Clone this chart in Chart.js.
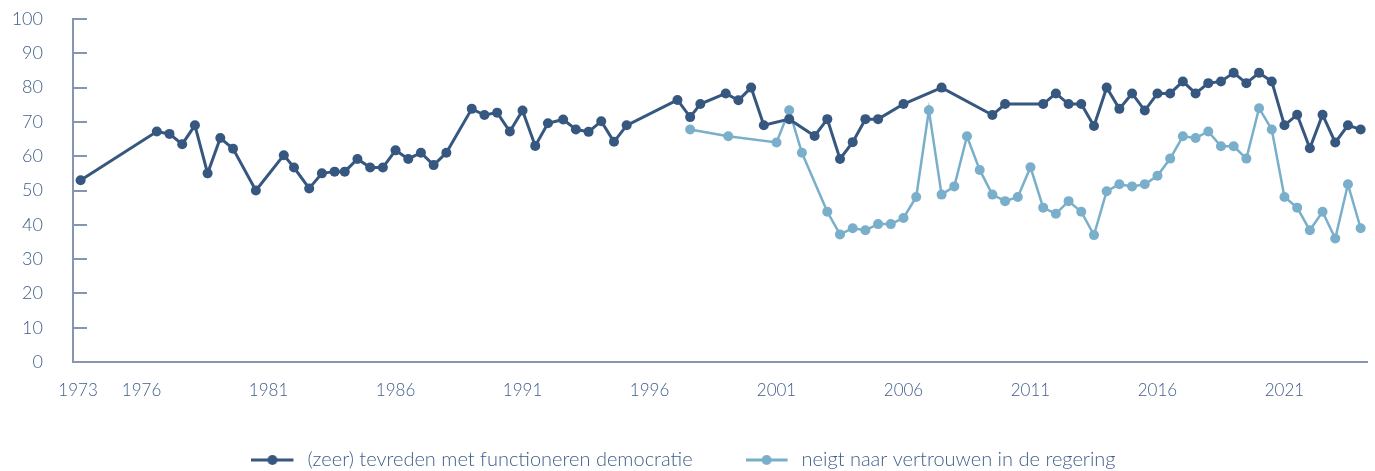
<!DOCTYPE html>
<html lang="nl">
<head>
  <meta charset="UTF-8" />
  <title>Tevredenheid democratie en vertrouwen in de regering</title>
  <script src="https://cdn.jsdelivr.net/npm/chart.js"></script>
  <style>
    html, body { margin: 0; padding: 0; background: #fff; overflow: hidden; }
    #wrap { width: 1375px; height: 471px; overflow: hidden; }
  </style>
</head>
<body>
<div id="wrap"><canvas id="chart" width="1375" height="480"></canvas></div>
<script>
  // jaren (decimaal, peilmoment) en percentages
  const demYears = [1973.6, 1976.6, 1977.1, 1977.6, 1978.1, 1978.6, 1979.1, 1979.6, 1980.5, 1981.6,
    1982.0, 1982.6, 1983.1, 1983.6, 1984.0, 1984.5, 1985.0, 1985.5, 1986.0, 1986.5,
    1987.0, 1987.5, 1988.0, 1989.0, 1989.5, 1990.0, 1990.5, 1991.0, 1991.5, 1992.0,
    1992.6, 1993.1, 1993.6, 1994.1, 1994.6, 1995.1, 1997.1, 1997.6, 1998.0, 1999.0,
    1999.5, 2000.0, 2000.5, 2001.5, 2002.5, 2003.0, 2003.5, 2004.0, 2004.5, 2005.0,
    2006.0, 2007.5, 2009.5, 2010.0, 2011.5, 2012.0, 2012.5, 2013.0, 2013.5, 2014.0,
    2014.5, 2015.0, 2015.5, 2016.0, 2016.5, 2017.0, 2017.5, 2018.0, 2018.5, 2019.0,
    2019.5, 2020.0, 2020.5, 2021.0, 2021.5, 2022.0, 2022.5, 2023.0, 2023.5, 2024.0];
  const demValues = [53, 67.2, 66.5, 63.5, 69, 55, 65.3, 62.2, 50, 60.3,
    56.7, 50.6, 55, 55.5, 55.5, 59.2, 56.7, 56.7, 61.7, 59.2,
    61, 57.4, 61, 73.8, 72, 72.7, 67.2, 73.3, 63, 69.6,
    70.7, 67.8, 67.1, 70.2, 64.2, 69, 76.4, 71.4, 75.2, 78.3,
    76.3, 80, 69, 70.8, 65.9, 70.8, 59.2, 64.1, 70.8, 70.8,
    75.2, 80, 72, 75.2, 75.2, 78.3, 75.2, 75.2, 68.8, 80,
    73.8, 78.3, 73.3, 78.3, 78.3, 81.8, 78.3, 81.3, 81.8, 84.3,
    81.3, 84.3, 81.8, 69, 72.1, 62.3, 72.1, 64, 69, 67.8];

  const trustYears = [1997.6, 1999.1, 2001.0, 2001.5, 2002.0, 2003.0, 2003.5, 2004.0, 2004.5, 2005.0,
    2005.5, 2006.0, 2006.5, 2007.0, 2007.5, 2008.0, 2008.5, 2009.0, 2009.5, 2010.0,
    2010.5, 2011.0, 2011.5, 2012.0, 2012.5, 2013.0, 2013.5, 2014.0, 2014.5, 2015.0,
    2015.5, 2016.0, 2016.5, 2017.0, 2017.5, 2018.0, 2018.5, 2019.0, 2019.5, 2020.0,
    2020.5, 2021.0, 2021.5, 2022.0, 2022.5, 2023.0, 2023.5, 2024.0];
  const trustValues = [67.8, 65.8, 64, 73.4, 61, 43.8, 37.2, 39, 38.4, 40.2,
    40.2, 42, 48.1, 73.4, 48.8, 51.2, 65.8, 56, 48.8, 46.9,
    48.1, 56.8, 45, 43.2, 46.9, 43.8, 37, 49.8, 51.8, 51.2,
    51.8, 54.3, 59.3, 65.8, 65.3, 67.2, 62.9, 62.9, 59.3, 74,
    67.8, 48.1, 45, 38.4, 43.8, 36, 51.8, 39];

  const xTickValues = [1973.5, 1976, 1981, 1986, 1991, 1996, 2001, 2006, 2011, 2016, 2021];
  const seriesLabels = ['(zeer) tevreden met functioneren democratie', 'neigt naar vertrouwen in de regering'];

  const DARK = '#36577f';
  const LIGHT = '#79afca';
  const AXIS = '#8596ae';
  const TEXT = '#3f5e8a';
  const FONT = "Lato, 'Open Sans', sans-serif";

  function toPoints(xs, ys) {
    return xs.map((x, i) => ({ x, y: ys[i] }));
  }

  // legend-symbool: lijntje met bolletje (+ wat lucht rechts)
  function legendMarker(color) {
    const c = document.createElement('canvas');
    c.width = 46; c.height = 12;
    const g = c.getContext('2d');
    g.strokeStyle = color; g.lineWidth = 3;
    g.beginPath(); g.moveTo(0, 6); g.lineTo(42, 6); g.stroke();
    g.fillStyle = color;
    g.beginPath(); g.arc(21, 6, 5, 0, Math.PI * 2); g.fill();
    return c;
  }

  // y-tickstreepjes binnen het plotvlak
  const innerTicks = {
    id: 'innerTicks',
    beforeDatasetsDraw(chart) {
      const { ctx, chartArea, scales: { y } } = chart;
      ctx.save();
      ctx.strokeStyle = AXIS;
      ctx.lineWidth = 2;
      y.ticks.forEach(t => {
        const py = Math.round(y.getPixelForValue(t.value));
        ctx.beginPath();
        ctx.moveTo(chartArea.left, py);
        ctx.lineTo(chartArea.left + 14, py);
        ctx.stroke();
      });
      ctx.restore();
    }
  };

  new Chart(document.getElementById('chart'), {
    type: 'line',
    data: {
      datasets: [
        {
          label: seriesLabels[0],
          data: toPoints(demYears, demValues),
          borderColor: DARK, backgroundColor: DARK,
          borderWidth: 3, pointRadius: 5, pointBorderWidth: 0,
          pointBackgroundColor: DARK, tension: 0
        },
        {
          label: seriesLabels[1],
          data: toPoints(trustYears, trustValues),
          borderColor: LIGHT, backgroundColor: LIGHT,
          borderWidth: 2.5, pointRadius: 5, pointBorderWidth: 0,
          pointBackgroundColor: LIGHT, tension: 0
        }
      ]
    },
    options: {
      responsive: false,
      animation: false,
      layout: { padding: { top: 19, right: 8, left: 0, bottom: 0 } },
      plugins: {
        tooltip: { enabled: false },
        legend: {
          position: 'bottom',
          labels: {
            usePointStyle: true,
            pointStyleWidth: 46,
            padding: 53,
            color: TEXT,
            font: { family: FONT, size: 20, weight: 300 },
            generateLabels(chart) {
              const items = Chart.defaults.plugins.legend.labels.generateLabels(chart);
              items.forEach((it, i) => { it.pointStyle = legendMarker(i === 0 ? DARK : LIGHT); });
              return items;
            }
          }
        }
      },
      scales: {
        x: {
          type: 'linear',
          min: 1973.3,
          max: 2024.25,
          grid: { display: true, drawOnChartArea: false, drawTicks: false },
          border: { display: true, color: AXIS, width: 2 },
          afterBuildTicks(scale) {
            scale.ticks = xTickValues.map(v => ({ value: v }));
          },
          afterFit(scale) { scale.height = 35; },
          ticks: {
            autoSkip: false, maxRotation: 0, padding: 18,
            color: TEXT,
            font: { family: FONT, size: 17, weight: 300 },
            callback: v => String(Math.floor(v))
          }
        },
        y: {
          min: 0, max: 100,
          grid: { display: true, drawOnChartArea: false, drawTicks: false },
          border: { display: true, color: AXIS, width: 2 },
          afterFit(scale) {
            scale.width = 73;
            scale.paddingTop = 0;
            scale.paddingBottom = 0;
          },
          ticks: {
            stepSize: 10, padding: 30,
            color: TEXT,
            font: { family: FONT, size: 18, weight: 300 }
          }
        }
      }
    },
    plugins: [innerTicks]
  });
</script>
</body>
</html>
